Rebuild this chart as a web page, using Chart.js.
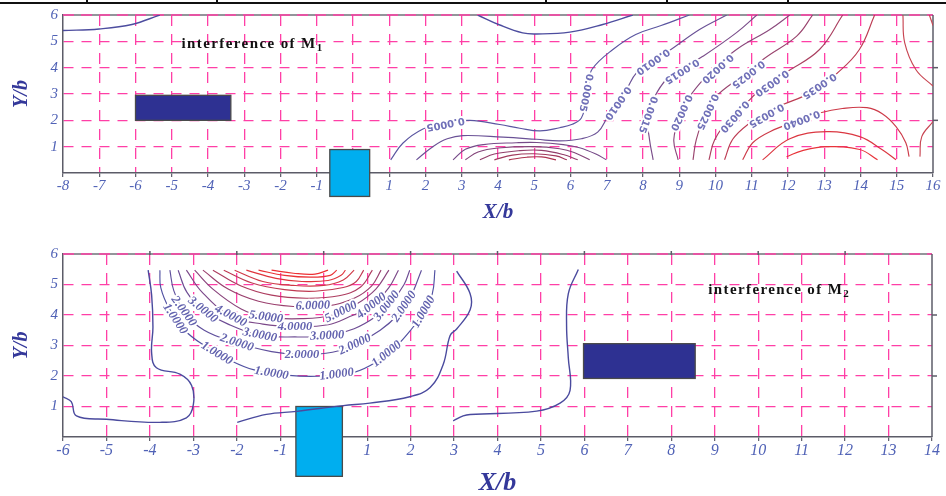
<!DOCTYPE html>
<html>
<head>
<meta charset="utf-8">
<script src="https://cdn.jsdelivr.net/npm/chart.js@4"></script>
<style>
  html, body { margin: 0; padding: 0; background: #fff; }
  #wrap { position: relative; width: 946px; height: 496px; overflow: hidden; }
  .panel { position: absolute; left: 0; width: 946px; }
  #p1 { top: 0; height: 240px; }
  #p2 { top: 240px; height: 256px; }
  .rule { position: absolute; background: #111; }
</style>
</head>
<body>
<div id="wrap">
  <div class="panel" id="p1"><canvas id="c1"></canvas></div>
  <div class="panel" id="p2"><canvas id="c2"></canvas></div>
  <div class="rule" style="left:0;top:2px;width:946px;height:2px"></div>
  <div class="rule" style="left:86px;top:0;width:2px;height:4px"></div>
  <div class="rule" style="left:216px;top:0;width:2px;height:4px"></div>
  <div class="rule" style="left:545px;top:0;width:2px;height:4px"></div>
  <div class="rule" style="left:666px;top:0;width:2px;height:4px"></div>
  <div class="rule" style="left:787px;top:0;width:2px;height:4px"></div>
</div>
<script>
// axis ranges
const m1Range = [-8, 16];
const m2Range = [-6, 14];
const yRange = [0, 6];

// ---- interference of M1: contour lines as [X/b, Y/b] ----
const m1EdgeLeft = [[-8, 5.41], [-7, 5.47], [-6.1, 5.64], [-5.33, 6]];
const m1EdgeMid = [[3.44, 6], [4.05, 5.62], [4.68, 5.32], [5.07, 5.28], [5.98, 5.35], [6.89, 5.64], [7.72, 6]];
const m1C05 = [[1.04, 0.5], [1.38, 1.14], [1.93, 1.67], [2.5, 1.9], [3.22, 2.0], [4.05, 1.84], [4.6, 1.7], [5.16, 1.6],
  [5.7, 1.72], [6.05, 1.85], [6.3, 2.09], [6.4, 2.6], [6.5, 3.4], [6.6, 3.95], [7.17, 4.69], [7.8, 5.26], [8.5, 5.6], [9.28, 6]];
const m1C10 = [[1.75, 0.5], [2.21, 1.01], [2.6, 1.3], [3.03, 1.42], [4.14, 1.36], [5.06, 1.28], [5.7, 1.22], [6.3, 1.3],
  [6.75, 1.55], [7.03, 2.15], [7.3, 2.7], [7.54, 3.17], [7.82, 3.8], [8.27, 4.25], [8.74, 4.66], [9.56, 5.45], [10.31, 6]];
const m1C15 = [[8.28, 0.5], [8.18, 1.27], [8.12, 2.2], [8.28, 2.79], [8.64, 3.55], [9.07, 3.95], [9.65, 4.43], [10.58, 5.33], [11.14, 6]];
const m1C20 = [[8.97, 0.5], [8.85, 1.27], [9.05, 2.3], [9.29, 2.91], [9.66, 3.55], [9.96, 3.95], [10.58, 4.69], [11.5, 5.45], [12.05, 6]];
const m1C25 = [[9.38, 0.5], [9.47, 1.27], [9.75, 2.35], [10.02, 2.91], [10.48, 3.43], [10.9, 3.75], [11.3, 4.3], [12.24, 5.2], [12.68, 6]];
const m1C30 = [[9.82, 0.5], [9.98, 1.27], [10.45, 2.2], [10.86, 2.67], [11.14, 3.05], [11.55, 3.45], [11.96, 3.83], [12.87, 4.69], [13.51, 6]];
const m1C35 = [[10.25, 0.5], [10.47, 1.27], [10.9, 1.85], [11.4, 2.25], [11.86, 2.6], [12.4, 2.9], [12.85, 3.3], [13.34, 3.77], [13.97, 4.69], [14.39, 6]];
const m1C40 = [[10.75, 0.5], [11.02, 1.14], [11.5, 1.57], [12.35, 2.02], [12.87, 2.28], [13.5, 2.45], [14.18, 2.48],
  [14.6, 2.25], [14.98, 1.76], [15.25, 1.15], [15.34, 0.62]];
const m1C45 = [[11.3, 0.5], [12.05, 1.3], [13.07, 1.57], [13.98, 1.38], [14.6, 0.88], [14.98, 0.5]];
const m1C50 = [[11.96, 0.62], [12.4, 0.85], [13.07, 1.0], [13.98, 0.89], [14.47, 0.5]];
const m1D2 = [[2.76, 0.5], [3.1, 0.9], [3.6, 1.08], [4.5, 1.15], [5.07, 1.16], [5.8, 1.08], [6.25, 0.96], [6.7, 0.72], [6.99, 0.5]];
const m1D3 = [[3.1, 0.5], [3.45, 0.8], [4.0, 0.95], [5.0, 1.0], [5.7, 0.92], [6.1, 0.78], [6.53, 0.5]];
const m1D4 = [[3.5, 0.5], [3.9, 0.72], [4.6, 0.85], [5.2, 0.86], [5.8, 0.7], [6.2, 0.5]];
const m1D5 = [[3.9, 0.5], [4.4, 0.68], [5.0, 0.73], [5.6, 0.65], [5.9, 0.5]];
const m1D6 = [[4.3, 0.5], [4.8, 0.6], [5.2, 0.61], [5.6, 0.5]];
const m1Right1 = [[15.17, 6], [15.22, 4.94], [15.53, 3.92], [16, 3.3]];
const m1Right2 = [[15.9, 6], [16, 5.6]];
const m1Right3 = [[15.64, 0.62], [15.69, 1.38], [16, 1.95]];
const m1Lines = [m1EdgeLeft, m1EdgeMid, m1C05, m1C10, m1C15, m1C20, m1C25, m1C30, m1C35, m1C40, m1C45, m1C50,
  m1D2, m1D3, m1D4, m1D5, m1D6, m1Right1, m1Right2, m1Right3];
const m1Labels = [
  ['0.0005', 2.55, 1.87], ['0.0005', 6.42, 3.05], ['0.0010', 7.3, 2.66], ['0.0010', 8.27, 4.24],
  ['0.0015', 8.13, 2.22], ['0.0015', 9.07, 3.88], ['0.0020', 9.05, 2.3], ['0.0020', 10.05, 3.97],
  ['0.0025', 9.77, 2.33], ['0.0025', 10.9, 3.76], ['0.0030', 10.52, 2.15], ['0.0030', 11.55, 3.43],
  ['0.0035', 11.4, 2.2], ['0.0035', 12.86, 3.32], ['0.0040', 12.37, 2.03]
];
// blocks: [x from, x to, y from, y to]
const m1Blocks = [[-6, -3.37, 2, 2.95], [-0.64, 0.46, -0.89, 0.89]];
const m1TitleAt = [-4.73, 4.95];

// ---- interference of M2 ----
const m2Outer = [[-4.04, 5.47], [-3.96, 4.65], [-3.93, 3.6], [-3.96, 2.75], [-3.85, 2.27], [-3.31, 2.06], [-3.04, 1.69],
  [-3.0, 1.06], [-3.16, 0.63], [-3.77, 0.48], [-5.0, 0.58], [-5.69, 0.69], [-5.81, 1.16], [-6, 1.32]];
const m2Lower = [[-1.99, 0.48], [-1.32, 0.74], [-0.62, 0.84], [0.45, 1.03], [1.06, 1.11], [1.98, 1.32], [2.45, 1.62],
  [2.75, 2.38], [2.91, 3.33], [3.06, 3.54], [3.37, 4.17], [3.37, 4.7], [3.06, 5.44]];
const m2Right = [[2.98, 0.53], [3.21, 0.69], [3.37, 0.74], [4.9, 0.85], [5.44, 1.11], [5.67, 1.53], [5.63, 2.59],
  [5.59, 3.64], [5.63, 4.7], [5.86, 5.49]];
const m2L1 = [[-3.77, 5.47], [-3.75, 4.9], [-3.55, 4.2], [-3.2, 3.5], [-2.75, 3.0], [-2.2, 2.55], [-1.6, 2.2], [-0.8, 2.02],
  [0, 2.0], [0.7, 2.12], [1.2, 2.45], [1.65, 2.95], [2.0, 3.5], [2.3, 4.1], [2.5, 4.7], [2.56, 5.47]];
const m2L2 = [[-3.54, 5.47], [-3.45, 4.8], [-3.2, 4.1], [-2.75, 3.5], [-2.0, 3.09], [-1.2, 2.8], [-0.5, 2.7], [0.2, 2.78],
  [0.75, 3.05], [1.3, 3.5], [1.7, 4.0], [2.0, 4.6], [2.25, 5.47]];
const m2L3 = [[-3.35, 5.47], [-3.15, 4.75], [-2.78, 4.17], [-2.2, 3.7], [-1.47, 3.34], [-0.6, 3.28], [0.1, 3.32],
  [0.7, 3.55], [1.2, 3.95], [1.55, 4.4], [1.85, 5.0], [1.98, 5.47]];
const m2L4 = [[-3.16, 5.47], [-2.8, 4.75], [-2.14, 3.97], [-1.4, 3.7], [-0.66, 3.62], [0.1, 3.68], [0.6, 3.95],
  [1.1, 4.3], [1.5, 4.9], [1.72, 5.47]];
const m2L5 = [[-2.97, 5.47], [-2.55, 4.85], [-1.9, 4.2], [-1.33, 3.93], [-0.5, 3.88], [0.22, 4.0], [0.75, 4.35], [1.2, 4.85], [1.5, 5.47]];
const m2L6 = [[-2.78, 5.47], [-2.2, 4.85], [-1.5, 4.45], [-0.7, 4.28], [0.1, 4.3], [0.7, 4.55], [1.1, 4.95], [1.32, 5.47]];
const m2L7 = [[-2.55, 5.47], [-1.9, 4.95], [-1.2, 4.65], [-0.4, 4.55], [0.35, 4.63], [0.85, 4.92], [1.12, 5.47]];
const m2L8 = [[-2.3, 5.47], [-1.65, 5.05], [-0.9, 4.83], [-0.2, 4.78], [0.45, 4.9], [0.75, 5.1], [0.92, 5.47]];
const m2L9 = [[-2.05, 5.47], [-1.4, 5.1], [-0.7, 4.97], [0, 4.97], [0.45, 5.15], [0.7, 5.47]];
const m2L10 = [[-1.78, 5.47], [-1.1, 5.2], [-0.5, 5.1], [0.1, 5.13], [0.4, 5.3], [0.5, 5.47]];
const m2L11 = [[-1.5, 5.47], [-0.9, 5.3], [-0.3, 5.24], [0.15, 5.3], [0.3, 5.47]];
const m2L12 = [[-1.2, 5.47], [-0.7, 5.37], [-0.2, 5.34], [0.1, 5.47]];
const m2Lines = [m2Outer, m2Lower, m2Right, m2L1, m2L2, m2L3, m2L4, m2L5, m2L6, m2L7, m2L8, m2L9, m2L10, m2L11, m2L12];
const m2Labels = [
  ['1.0000', -3.42, 3.87], ['1.0000', -2.46, 2.74], ['1.0000', -1.2, 2.09], ['1.0000', 0.3, 2.05],
  ['1.0000', 1.45, 2.72], ['1.0000', 2.3, 4.1],
  ['2.0000', -3.22, 4.12], ['2.0000', -2.0, 3.09], ['2.0000', -0.5, 2.7], ['2.0000', 0.72, 3.03], ['2.0000', 1.85, 4.28],
  ['3.0000', -2.78, 4.17], ['3.0000', -1.47, 3.34], ['3.0000', 0.08, 3.32], ['3.0000', 1.45, 4.3],
  ['4.0000', -2.14, 3.97], ['4.0000', -0.66, 3.62], ['4.0000', 1.1, 4.3],
  ['5.0000', -1.33, 3.93], ['5.0000', 0.4, 4.1],
  ['6.0000', -0.25, 4.3]
];
const m2Blocks = [[5.98, 8.55, 1.92, 3.06], [-0.64, 0.43, -1.29, 1.0]];
const m2TitleAt = [8.85, 4.84];

// ---- styles ----
const pink = '#ff3fa6';
const tickBlue = '#5062b6';
const axisGray = '#5c5c68';
const serif = "'Liberation Serif', 'DejaVu Serif', serif";
const blockFill = ['#2e3192', '#00aeef'];
const m1Colors = ['#4d4d9f', '#4d4d9f', '#5a55a0', '#6a5196', '#7a4d8a', '#8a487c', '#9a446e', '#ab4060', '#bd3c53',
  '#cd3a48', '#db3741', '#e8343a', '#764a88', '#84457a', '#933f6b', '#a0395c', '#ad3350', '#c84552', '#c84552', '#c84552'];
const m1LabelAngles = [169, 101, 125, 145, 110, 148, 115, 138, 115, 142, 131, 145, 150, 146, 159];
const m2Colors = ['#4a4a9e', '#4a4a9e', '#4a4a9e', '#5151a2', '#5f4f9c', '#6d4c94', '#7b4889', '#8a447c', '#9a406e',
  '#ad3c5f', '#bf3a52', '#d03846', '#df353d', '#ea3236', '#ee3034'];
const m2LabelAngles = [56, 31, 9, -7, -39, -60, 54, 18, 0, -25, -56, 39, 11, -3, -52, 28, 0, -38, 8, -26, -2];

function stroke(ctx, x1, y1, x2, y2) {
  ctx.beginPath(); ctx.moveTo(x1, y1); ctx.lineTo(x2, y2); ctx.stroke();
}

function framePlugin(p) {
  return {
    id: 'frame',
    beforeDatasetsDraw(chart) {
      const {ctx, chartArea: a, scales: {x, y}} = chart;
      ctx.save();
      // top edge: grey rule with the pink dashes over it
      ctx.lineWidth = 1.5; ctx.strokeStyle = '#707078';
      stroke(ctx, a.left, a.top, a.right, a.top);
      ctx.setLineDash([11, 7]); ctx.strokeStyle = pink; ctx.lineWidth = 1.3;
      stroke(ctx, a.left, a.top, a.right, a.top);
      ctx.setLineDash([]);
      // right edge with outward ticks
      ctx.strokeStyle = axisGray; ctx.lineWidth = 1.5;
      stroke(ctx, a.right, a.top, a.right, a.bottom);
      [2, 4].forEach(v => { const py = y.getPixelForValue(v); stroke(ctx, a.right, py, a.right + 5, py); });
      if (p.topTicks) {
        for (let v = p.range[0] + 2; v < p.range[1]; v += 2) {
          const px = x.getPixelForValue(v);
          stroke(ctx, px, a.top - 3, px, a.top + 1);
        }
      }
      // the two blocks
      p.blocks.forEach((b, i) => {
        const x0 = x.getPixelForValue(b[0]), x1 = x.getPixelForValue(b[1]);
        const y0 = y.getPixelForValue(b[3]), y1 = y.getPixelForValue(b[2]);
        ctx.fillStyle = blockFill[i];
        ctx.fillRect(x0, y0, x1 - x0, y1 - y0);
        ctx.strokeStyle = '#4a4a4a'; ctx.lineWidth = 1.3;
        ctx.strokeRect(x0, y0, x1 - x0, y1 - y0);
      });
      ctx.restore();
    },
    afterDatasetsDraw(chart) {
      const {ctx, scales: {x, y}} = chart;
      ctx.save();
      ctx.font = p.labelFont;
      ctx.textAlign = 'center';
      ctx.textBaseline = 'middle';
      ctx.lineJoin = 'round';
      p.labels.forEach(([t, lx, ly], i) => {
        ctx.save();
        ctx.translate(x.getPixelForValue(lx), y.getPixelForValue(ly));
        ctx.rotate(p.angles[i] * Math.PI / 180);
        ctx.strokeStyle = '#fff'; ctx.lineWidth = 4;
        ctx.strokeText(t, 0, 0);
        ctx.fillStyle = p.labelColor;
        ctx.fillText(t, 0, 0);
        ctx.restore();
      });
      // panel caption with subscript
      const tx = x.getPixelForValue(p.titleAt[0]), ty = y.getPixelForValue(p.titleAt[1]);
      ctx.textAlign = 'left';
      ctx.textBaseline = 'alphabetic';
      ctx.fillStyle = '#111';
      ctx.font = 'bold 15px ' + serif;
      ctx.letterSpacing = '1.4px';
      const main = 'interference of M';
      ctx.fillText(main, tx, ty + 5);
      const w = ctx.measureText(main).width;
      ctx.font = 'bold 11px ' + serif;
      ctx.fillText(p.sub, tx + w, ty + 8);
      ctx.restore();
    }
  };
}

function makeChart(id, p) {
  const edgeX = c => (c.tick && (c.tick.value === p.range[0] || c.tick.value === p.range[1])) ? 'rgba(0,0,0,0)' : pink;
  const edgeY = c => (c.tick && (c.tick.value === yRange[0] || c.tick.value === yRange[1])) ? 'rgba(0,0,0,0)' : pink;
  return new Chart(document.getElementById(id), {
    type: 'scatter',
    data: {
      datasets: p.lines.map((pts, i) => ({
        data: pts.map(([px, py]) => ({x: px, y: py})),
        showLine: true,
        borderColor: p.colors[i],
        borderWidth: i < p.thick ? 1.4 : 1.15,
        pointRadius: 0,
        tension: 0.4
      }))
    },
    options: {
      responsive: true,
      maintainAspectRatio: false,
      animation: false,
      events: [],
      layout: {padding: {top: p.padTop, right: p.padRight, left: 0, bottom: 0}},
      plugins: {legend: {display: false}, tooltip: {enabled: false}},
      scales: {
        x: {
          type: 'linear', min: p.range[0], max: p.range[1],
          ticks: {stepSize: 1, autoSkip: false, maxRotation: 0, padding: 0, color: tickBlue,
            font: {family: serif, style: 'italic', size: p.xTickSize}},
          grid: {color: edgeX, lineWidth: 1.3, tickLength: 4, tickColor: axisGray, tickWidth: 1.2},
          border: {color: axisGray, width: 1.5, dash: [11, 8]},
          title: {display: true, text: 'X/b', color: '#34389a',
            font: {family: serif, style: 'italic', weight: 'bold', size: p.xTitleSize, lineHeight: 1},
            padding: {top: 0, bottom: p.xTitlePad}},
          afterFit: s => { s.height = p.xAxisH; }
        },
        y: {
          type: 'linear', min: yRange[0], max: yRange[1],
          ticks: {stepSize: 1, padding: 5, color: tickBlue, callback: v => v === 0 ? '' : v,
            font: {family: serif, style: 'italic', size: p.yTickSize}},
          grid: {color: edgeY, lineWidth: 1.3, drawTicks: false},
          border: {color: axisGray, width: 1.5, dash: [10, 8]},
          title: {display: true, text: 'Y/b', color: '#34389a',
            font: {family: serif, style: 'italic', weight: 'bold', size: 20, lineHeight: 1},
            padding: {top: 12, bottom: 0}},
          afterFit: s => { s.width = 63; }
        }
      }
    },
    plugins: [framePlugin(p)]
  });
}

makeChart('c1', {
  range: m1Range, lines: m1Lines, colors: m1Colors, thick: 2,
  labels: m1Labels, angles: m1LabelAngles, labelFont: "bold 10px 'DejaVu Sans'", labelColor: '#7070b8',
  blocks: m1Blocks, titleAt: m1TitleAt, sub: '1', topTicks: false,
  padTop: 15, padRight: 13, xAxisH: 67, xTickSize: 15, yTickSize: 15, xTitleSize: 21, xTitlePad: 17
});

makeChart('c2', {
  range: m2Range, lines: m2Lines, colors: m2Colors, thick: 3,
  labels: m2Labels, angles: m2LabelAngles, labelFont: 'italic bold 12.5px ' + serif, labelColor: '#6262ae',
  blocks: m2Blocks, titleAt: m2TitleAt, sub: '2', topTicks: true,
  padTop: 7, padRight: 14, xAxisH: 59, xTickSize: 16, yTickSize: 15, xTitleSize: 26, xTitlePad: 0
});
</script>
</body>
</html>
